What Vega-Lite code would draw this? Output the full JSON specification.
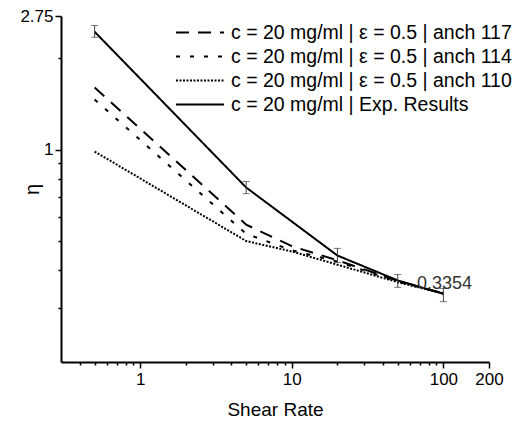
{
  "$schema": "https://vega.github.io/schema/vega-lite/v6.json",
  "width": 428,
  "height": 346,
  "autosize": "none",
  "padding": {"left": 61, "top": 16, "right": 24, "bottom": 64},
  "background": "white",
  "config": {"view": {"stroke": null}, "font": "Liberation Sans"},
  "datasets": {
    "lines": [
      {"series": "c = 20 mg/ml | ε = 0.5 | anch 117", "shear": 0.5, "eta": 1.60},
      {"series": "c = 20 mg/ml | ε = 0.5 | anch 117", "shear": 5, "eta": 0.566},
      {"series": "c = 20 mg/ml | ε = 0.5 | anch 117", "shear": 10, "eta": 0.481},
      {"series": "c = 20 mg/ml | ε = 0.5 | anch 117", "shear": 20, "eta": 0.432},
      {"series": "c = 20 mg/ml | ε = 0.5 | anch 117", "shear": 50, "eta": 0.370},
      {"series": "c = 20 mg/ml | ε = 0.5 | anch 117", "shear": 100, "eta": 0.336},
      {"series": "c = 20 mg/ml | ε = 0.5 | anch 114", "shear": 0.5, "eta": 1.46},
      {"series": "c = 20 mg/ml | ε = 0.5 | anch 114", "shear": 5, "eta": 0.528},
      {"series": "c = 20 mg/ml | ε = 0.5 | anch 114", "shear": 10, "eta": 0.466},
      {"series": "c = 20 mg/ml | ε = 0.5 | anch 114", "shear": 20, "eta": 0.428},
      {"series": "c = 20 mg/ml | ε = 0.5 | anch 114", "shear": 50, "eta": 0.368},
      {"series": "c = 20 mg/ml | ε = 0.5 | anch 114", "shear": 100, "eta": 0.336},
      {"series": "c = 20 mg/ml | ε = 0.5 | anch 110", "shear": 0.5, "eta": 0.985},
      {"series": "c = 20 mg/ml | ε = 0.5 | anch 110", "shear": 5, "eta": 0.50},
      {"series": "c = 20 mg/ml | ε = 0.5 | anch 110", "shear": 10, "eta": 0.462},
      {"series": "c = 20 mg/ml | ε = 0.5 | anch 110", "shear": 20, "eta": 0.418},
      {"series": "c = 20 mg/ml | ε = 0.5 | anch 110", "shear": 50, "eta": 0.366},
      {"series": "c = 20 mg/ml | ε = 0.5 | anch 110", "shear": 100, "eta": 0.336},
      {"series": "c = 20 mg/ml | Exp. Results", "shear": 0.5, "eta": 2.44},
      {"series": "c = 20 mg/ml | Exp. Results", "shear": 5, "eta": 0.75},
      {"series": "c = 20 mg/ml | Exp. Results", "shear": 20, "eta": 0.448},
      {"series": "c = 20 mg/ml | Exp. Results", "shear": 50, "eta": 0.371},
      {"series": "c = 20 mg/ml | Exp. Results", "shear": 100, "eta": 0.3354}
    ],
    "exp": [
      {"shear": 0.5, "lo": 2.34, "hi": 2.56},
      {"shear": 5, "lo": 0.716, "hi": 0.785},
      {"shear": 20, "lo": 0.425, "hi": 0.473},
      {"shear": 50, "lo": 0.352, "hi": 0.388},
      {"shear": 100, "lo": 0.316, "hi": 0.349}
    ],
    "note": [
      {"shear": 67, "eta": 0.361, "label": "0.3354"}
    ]
  },
  "layer": [
    {
      "data": {"name": "lines"},
      "mark": {"type": "line", "strokeWidth": 2, "color": "black"},
      "encoding": {
        "x": {
          "field": "shear", "type": "quantitative", "title": "Shear Rate",
          "scale": {"type": "log", "domain": [0.3, 200], "nice": false},
          "axis": {
            "values": [0.4, 0.5, 0.6, 0.7, 0.8, 0.9, 1, 2, 3, 4, 5, 6, 7, 8, 9, 10, 20, 30, 40, 50, 60, 70, 80, 90, 100, 200],
            "labelExpr": "(datum.value == 1 || datum.value == 10 || datum.value == 100 || datum.value == 200) ? '' + datum.value : ''",
            "tickSize": {"condition": {"test": "datum.value == 1 || datum.value == 10 || datum.value == 100 || datum.value == 200", "value": 6}, "value": 3},
            "domainColor": "black", "domainWidth": 2, "tickColor": "black", "tickWidth": 1.5,
            "labelFontSize": 17, "labelColor": "black", "labelPadding": 3, "labelFlush": false, "labelOverlap": false,
            "titleFontSize": 19, "titleFontWeight": "normal", "titleColor": "black", "titlePadding": 13,
            "grid": false
          }
        },
        "y": {
          "field": "eta", "type": "quantitative", "title": "η",
          "scale": {"type": "log", "domain": [0.2, 2.75], "nice": false},
          "axis": {
            "values": [0.3, 0.4, 0.5, 0.6, 0.7, 0.8, 0.9, 1, 2, 2.75],
            "labelExpr": "(datum.value == 1 || datum.value == 2.75) ? '' + datum.value : ''",
            "tickSize": {"condition": {"test": "datum.value == 1 || datum.value == 2.75", "value": 6}, "value": 3},
            "domainColor": "black", "domainWidth": 2, "tickColor": "black", "tickWidth": 1.5,
            "labelFontSize": 17, "labelColor": "black", "labelPadding": 2, "labelFlush": false, "labelOverlap": false,
            "titleFontSize": 20, "titleFontWeight": "normal", "titleColor": "black",
            "titleX": -29, "titleY": 173, "titleAngle": -90, "titleAlign": "center", "titleBaseline": "middle",
            "grid": false
          }
        },
        "strokeDash": {
          "field": "series", "type": "nominal",
          "scale": {
            "domain": ["c = 20 mg/ml | ε = 0.5 | anch 117", "c = 20 mg/ml | ε = 0.5 | anch 114", "c = 20 mg/ml | ε = 0.5 | anch 110", "c = 20 mg/ml | Exp. Results"],
            "range": [[13, 9], [4, 10], [2, 1.5], [1, 0]]
          },
          "legend": {
            "orient": "none", "legendX": 114, "legendY": 7, "title": null,
            "symbolType": "stroke", "symbolSize": 2304, "symbolStrokeWidth": 2, "symbolStrokeColor": "black",
            "labelFontSize": 19.5, "labelColor": "black", "labelLimit": 0, "labelOffset": 6,
            "clipHeight": 19, "rowPadding": 4, "padding": 0
          }
        }
      }
    },
    {
      "data": {"name": "exp"},
      "mark": {"type": "errorbar", "ticks": {"size": 7, "color": "#444"}, "rule": {"color": "#444", "strokeWidth": 1}},
      "encoding": {
        "x": {"field": "shear", "type": "quantitative", "title": "Shear Rate"},
        "y": {"field": "lo", "type": "quantitative", "title": "η"},
        "y2": {"field": "hi"}
      }
    },
    {
      "data": {"name": "note"},
      "mark": {"type": "text", "align": "left", "baseline": "middle", "fontSize": 18, "color": "#333"},
      "encoding": {
        "x": {"field": "shear", "type": "quantitative", "title": "Shear Rate"},
        "y": {"field": "eta", "type": "quantitative", "title": "η"},
        "text": {"field": "label"}
      }
    }
  ]
}
